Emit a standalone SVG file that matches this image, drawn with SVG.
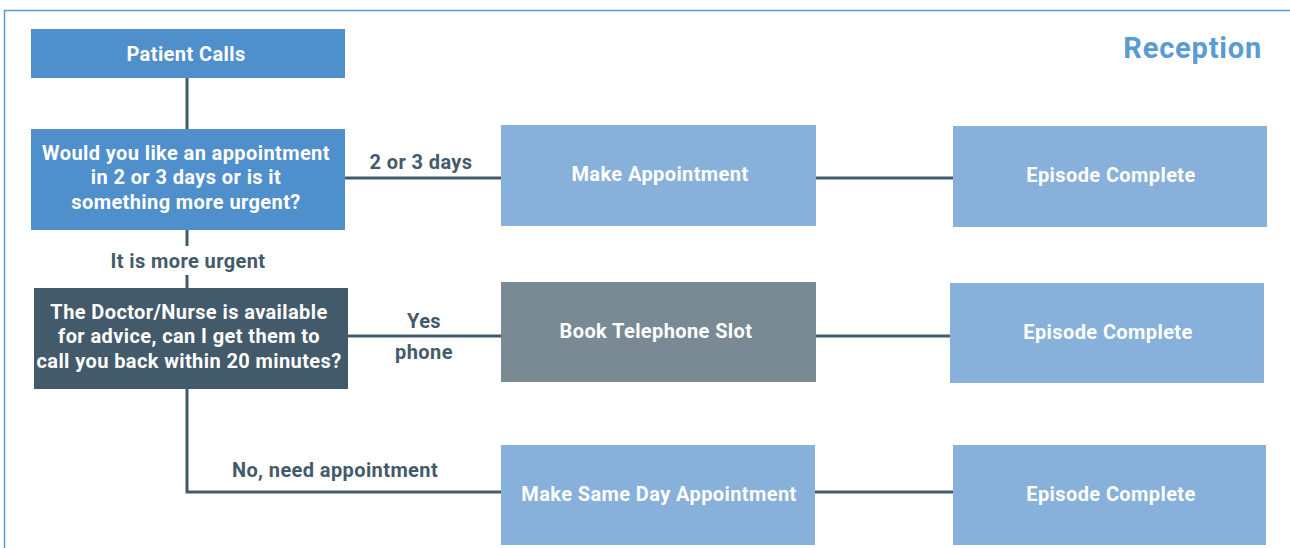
<svg xmlns="http://www.w3.org/2000/svg" width="1290" height="548" viewBox="0 0 1290 548">
<style>
.t{font-family:Roboto,"Liberation Sans",sans-serif;font-weight:bold;font-size:20px;letter-spacing:0.4px;fill:#fff;text-anchor:middle;dominant-baseline:central}
.l{font-family:Roboto,"Liberation Sans",sans-serif;font-weight:bold;font-size:20px;letter-spacing:0.4px;fill:#435a6b;text-anchor:middle;dominant-baseline:central}
.blue{fill:#4f8fcc}
.light{fill:#87b1db}
.gray{fill:#798a94}
.dark{fill:#435a6b}
.c{stroke:#435a6b;stroke-width:3;fill:none}
</style>
<rect x="4.5" y="10.5" width="1300" height="560" fill="none" stroke="#5b9bd5" stroke-width="1.5"/>
<text x="1262" y="48" font-family="Roboto,'Liberation Sans',sans-serif" font-weight="bold" font-size="29" letter-spacing="0.8" fill="#5b9bd5" text-anchor="end" dominant-baseline="central">Reception</text>
<g id="connectors">
<line class="c" x1="187" y1="78" x2="187" y2="129"/>
<line class="c" x1="187" y1="230" x2="187" y2="246"/>
<line class="c" x1="187" y1="275" x2="187" y2="288"/>
<line class="c" x1="345" y1="178" x2="501" y2="178"/>
<line class="c" x1="816" y1="178" x2="953" y2="178"/>
<line class="c" x1="348" y1="336" x2="501" y2="336"/>
<line class="c" x1="816" y1="336" x2="950" y2="336"/>
<polyline class="c" points="187,388 187,492 501,492"/>
<line class="c" x1="815" y1="492" x2="953" y2="492"/>
<text class="l" x="421" y="162">2 or 3 days</text>
<text class="l" x="188" y="261">It is more urgent</text>
<text class="l" x="424" y="321">Yes</text>
<text class="l" x="424" y="352">phone</text>
<text class="l" x="335" y="470">No, need appointment</text>
</g>
<g id="patient-calls">
<rect class="blue" x="31" y="29" width="314" height="49"/>
<text class="t" x="186" y="54">Patient Calls</text>
</g>
<g id="question-1">
<rect class="blue" x="31" y="129" width="314" height="101"/>
<text class="t" x="186" y="153">Would you like an appointment</text>
<text class="t" x="186" y="177">in 2 or 3 days or is it</text>
<text class="t" x="186" y="202">something more urgent?</text>
</g>
<g id="make-appointment">
<rect class="light" x="501" y="125" width="315" height="101"/>
<text class="t" x="660" y="174">Make Appointment</text>
</g>
<g id="episode-complete-1">
<rect class="light" x="953" y="126" width="314" height="101"/>
<text class="t" x="1111" y="175">Episode Complete</text>
</g>
<g id="question-2">
<rect class="dark" x="34" y="288" width="314" height="101"/>
<text class="t" x="189" y="312">The Doctor/Nurse is available</text>
<text class="t" x="189" y="336">for advice, can I get them to</text>
<text class="t" x="189" y="361">call you back within 20 minutes?</text>
</g>
<g id="book-telephone-slot">
<rect class="gray" x="501" y="282" width="315" height="100"/>
<text class="t" x="656" y="331">Book Telephone Slot</text>
</g>
<g id="episode-complete-2">
<rect class="light" x="950" y="283" width="314" height="100"/>
<text class="t" x="1108" y="332">Episode Complete</text>
</g>
<g id="make-same-day">
<rect class="light" x="501" y="445" width="314" height="100"/>
<text class="t" x="659" y="494">Make Same Day Appointment</text>
</g>
<g id="episode-complete-3">
<rect class="light" x="953" y="445" width="313" height="100"/>
<text class="t" x="1111" y="494">Episode Complete</text>
</g>
</svg>
